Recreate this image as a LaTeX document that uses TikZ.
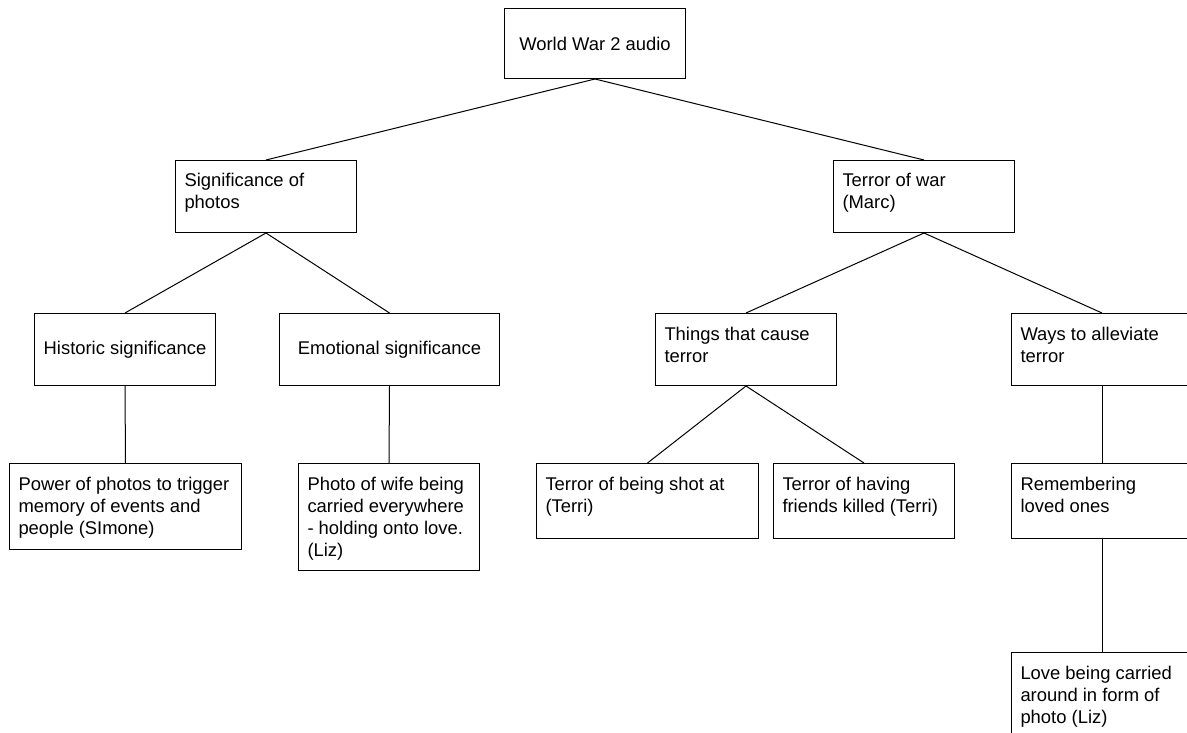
\documentclass[tikz,border=0pt]{standalone}
\usepackage{fontspec}
\setmainfont{Liberation Sans}
\newcommand\boxfont{\fontsize{18.4pt}{22pt}\selectfont}
% text block pinned to the top-left of a box of given width and height
\newcommand\boxtext[3]{\parbox[c][#2][t]{#1}{\raggedright\rule{0pt}{26.5pt}#3}}
\tikzset{
  every node/.style={font=\boxfont, text=black},
  box/.style={draw, line width=1pt, anchor=north west},
  leftbox/.style={box, inner ysep=0pt, inner xsep=9pt},
  midbox/.style={box, inner sep=0pt, align=center},
  link/.style={draw, line width=1pt}
}
\begin{document}
\begin{tikzpicture}[x=1pt, y=-1pt]
\useasboundingbox (0,0) rectangle (1187,733);
\fill[white] (0,0) rectangle (1187,733);
\clip (0,0) rectangle (1187,733);

% root
\node[midbox, minimum width=181pt, minimum height=70pt] (root) at (504,8) {World War 2 audio};

% first level
\node[leftbox] (sig) at (175,160) {\boxtext{163pt}{72pt}{Significance of\\photos}};
\node[leftbox] (terror) at (833,160) {\boxtext{163pt}{72pt}{Terror of war\\(Marc)}};

% second level
\node[midbox, minimum width=181pt, minimum height=72pt] (hist) at (34,313) {Historic significance};
\node[midbox, minimum width=220pt, minimum height=72pt] (emo) at (279,313) {Emotional significance};
\node[leftbox] (things) at (655,313) {\boxtext{163pt}{72pt}{Things that cause\\terror}};
\node[leftbox] (ways) at (1011,313) {\boxtext{163pt}{72pt}{Ways to alleviate\\terror}};

% third level
\node[leftbox] (power) at (9,463) {\boxtext{214pt}{86pt}{Power of photos to trigger\\memory of events and\\people (SImone)}};
\node[leftbox] (photo) at (298,463) {\boxtext{163pt}{107pt}{Photo of wife being\\carried everywhere\\- holding onto love.\\(Liz)}};
\node[leftbox] (shot) at (536,463) {\boxtext{204pt}{75pt}{Terror of being shot at\\(Terri)}};
\node[leftbox] (friends) at (773,463) {\boxtext{163pt}{75pt}{Terror of having\\friends killed (Terri)}};
\node[leftbox] (remember) at (1011,463) {\boxtext{163pt}{75pt}{Remembering\\loved ones}};

% fourth level
\node[leftbox] (love) at (1011,652) {\boxtext{163pt}{110pt}{Love being carried\\around in form of\\photo (Liz)}};

% connectors
\draw[link] (root.south) -- (sig.north);
\draw[link] (root.south) -- (terror.north);
\draw[link] (sig.south) -- (hist.north);
\draw[link] (sig.south) -- (emo.north);
\draw[link] (terror.south) -- (things.north);
\draw[link] (terror.south) -- (ways.north);
\draw[link] (hist.south) -- (power.north);
\draw[link] (emo.south) -- (photo.north);
\draw[link] (things.south) -- (shot.north);
\draw[link] (things.south) -- (friends.north);
\draw[link] (ways.south) -- (remember.north);
\draw[link] (remember.south) -- (love.north);
\end{tikzpicture}
\end{document}
